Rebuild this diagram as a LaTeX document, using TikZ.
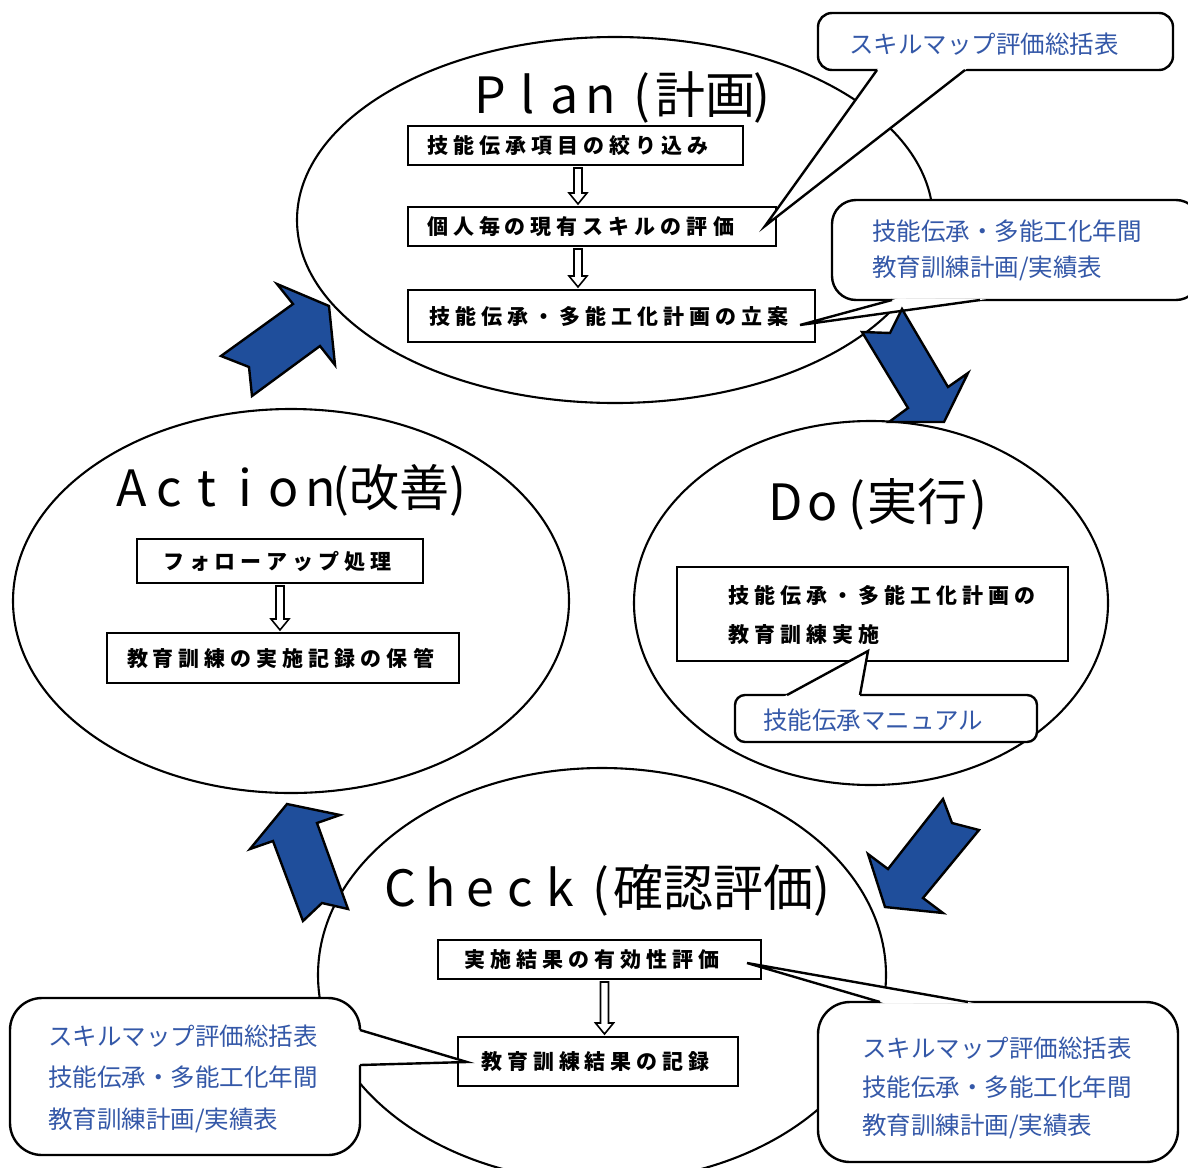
\documentclass[tikz,border=0pt]{standalone}
\usepackage{fontspec}
\setmainfont{Noto Sans CJK JP}
\usetikzlibrary{calc,shapes.geometric}
\definecolor{arrowblue}{RGB}{31,78,155}
\definecolor{textblue}{RGB}{52,88,168}
\newlength\lcw
\newcommand\lc[1]{\makebox[\lcw][c]{#1}}
\newlength\lsgap \setlength\lsgap{5pt}
\def\lsend{\lsend}
\def\lsloop#1{\ifx#1\lsend\else#1\kern\lsgap\expandafter\lsloop\fi}
\newcommand\sptext[1]{\lsloop#1\lsend}
\newcommand\hollowdown[3]{\draw[hollowarrow] let \p1=($(#1.south)+(#3,0)$), \p2=(#2.north) in
  (\x1-4pt,\y1-2pt) -- (\x1-4pt,\y2+13pt) -- (\x1-9pt,\y2+13pt) -- (\x1,\y2+2pt) --
  (\x1+9pt,\y2+13pt) -- (\x1+4pt,\y2+13pt) -- (\x1+4pt,\y1-2pt) -- cycle;}
\newcommand\calltail[3]{%
  \fill[white] ($(#1)!-6pt!(#3)$) -- (#3) -- ($(#2)!-6pt!(#3)$) -- cycle;
  \draw[tailline] (#1) -- (#3) -- (#2);}
\begin{document}
\begin{tikzpicture}[x=1pt,y=-1pt,
  every node/.style={inner sep=0pt},
  ell/.style={draw, ellipse, line width=2.1pt},
  stepbox/.style={draw, line width=2pt, fill=white, font=\fontsize{21}{21}\selectfont\bfseries},
  title/.style={font=\fontsize{50}{50}\selectfont, anchor=base west},
  callout/.style={draw, line width=2.4pt, fill=white},
  calltext/.style={text=textblue, font=\fontsize{24.5}{36}\selectfont, align=left, anchor=west},
  tailline/.style={line width=2.4pt, line join=miter},
  bigarrow/.style={fill=arrowblue, draw=black, line width=2.4pt, line join=miter},
  hollowarrow/.style={draw, line width=1.6pt, fill=white}]
\useasboundingbox (0,0) rectangle (1188,1167);
\fill[white] (0,0) rectangle (1188,1167);

% ellipses
\node[ell, minimum width=636, minimum height=366] (plan) at (615,220) {};
\node[ell, minimum width=474, minimum height=364] (do) at (871,603) {};
\node[ell, minimum width=556, minimum height=384] (act) at (291,601) {};
\node[ell, minimum width=568, minimum height=414] (chk) at (602,975) {};

% titles
\node[title] (tplan) at (471.5,113) {\setlength\lcw{37pt}\lc{P}\lc{l}\lc{a}\lc{n}\kern14pt(\kern5pt計画\kern-2pt)};
\node[title] (tact) at (112,506) {\setlength\lcw{38pt}\lc{A}\lc{c}\lc{t}\lc{i}\lc{o}\lc{n}\kern-8pt(改善)};
\node[title] (tdo) at (766.5,520) {\setlength\lcw{37pt}\lc{D}\lc{o}\kern8pt(\kern2pt実行\kern3pt)};
\node[title] (tchk) at (380,906) {\setlength\lcw{40pt}\lc{C}\lc{h}\lc{e}\lc{c}\lc{k}\kern12pt(\kern4pt確認評価)};

% plan boxes
\node[stepbox, minimum width=335, minimum height=39] (p1) at (575.5,145.5) {\sptext{技能伝承項目の絞り込み}\kern10pt};
\node[stepbox, minimum width=368, minimum height=39] (p2) at (592,226.5) {\sptext{個人毎の現有スキルの評価}\kern18pt};
\node[stepbox, minimum width=407, minimum height=52] (p3) at (611.5,316) {\sptext{技能伝承・多能工化計画の立案}};
\hollowdown{p1}{p2}{2.5}
\hollowdown{p2}{p3}{-14}

% do box
\node[stepbox, minimum width=391, minimum height=94] (d1) at (872.5,614) {};
\node[anchor=west, font=\fontsize{21}{39}\selectfont\bfseries, align=left] (dtxt) at (728,614.5)
  {\sptext{技能伝承・多能工化計画の}\\\sptext{教育訓練実施}};

% action boxes
\node[stepbox, minimum width=286, minimum height=44] (a1) at (280,561) {\sptext{フォローアップ処理}};
\node[stepbox, minimum width=352, minimum height=50] (a2) at (283,658) {\sptext{教育訓練の実施記録の保管}};
\hollowdown{a1}{a2}{0}

% check boxes
\node[stepbox, minimum width=323, minimum height=39] (k1) at (599.5,959.5) {\sptext{実施結果の有効性評価}\kern10pt};
\node[stepbox, minimum width=280, minimum height=49] (k2) at (598,1061.5) {\sptext{教育訓練結果の記録}};
\hollowdown{k1}{k2}{5}

% callouts
\node[callout, rounded corners=14pt, minimum width=355, minimum height=57] (c1) at (995.5,41.5) {};
\coordinate (c1a) at (877,70); \coordinate (c1b) at (965,70); \coordinate (t1) at (765,226);
\calltail{c1a}{c1b}{t1}
\node[calltext] (c1t) at (849,44) {スキルマップ評価総括表};

\node[callout, rounded corners=24pt, minimum width=368, minimum height=100] (c2) at (1016,250) {};
\coordinate (c2a) at (892,300); \coordinate (c2b) at (980,300); \coordinate (t2) at (800,325);
\calltail{c2a}{c2b}{t2}
\node[calltext, font=\fontsize{24.5}{35.5}\selectfont] (c2t) at (872,250.5) {技能伝承・多能工化年間\\教育訓練計画/実績表};

\node[callout, rounded corners=10pt, minimum width=302, minimum height=47] (c3) at (886,718.5) {};
\coordinate (c3a) at (787,695); \coordinate (c3b) at (860,695); \coordinate (t3) at (868,651);
\calltail{c3a}{c3b}{t3}
\node[calltext] (c3t) at (763,720) {技能伝承マニュアル};

\node[callout, rounded corners=32pt, minimum width=350, minimum height=157] (c4) at (185,1076.5) {};
\coordinate (c4a) at (360,1030); \coordinate (c4b) at (360,1065); \coordinate (t4) at (467,1062);
\calltail{c4a}{c4b}{t4}
\node[calltext, font=\fontsize{24.5}{41.5}\selectfont] (c4t) at (48,1078.5) {スキルマップ評価総括表\\技能伝承・多能工化年間\\教育訓練計画/実績表};

\node[callout, rounded corners=32pt, minimum width=360, minimum height=160] (c5) at (998,1082) {};
\coordinate (c5a) at (880,1002); \coordinate (c5b) at (968,1002); \coordinate (t5) at (747,963);
\calltail{c5a}{c5b}{t5}
\node[calltext, font=\fontsize{24.5}{38.5}\selectfont] (c5t) at (862,1088) {スキルマップ評価総括表\\技能伝承・多能工化年間\\教育訓練計画/実績表};

% big blue arrows
\draw[bigarrow] (329,306) -- (335,365) -- (320,346) -- (252,396) -- (249,367) -- (221,356) -- (293,304) -- (277,284) -- cycle;
\draw[bigarrow] (862,332) -- (890,333) -- (902,309) -- (948,387) -- (968,373) -- (944,422) -- (889,422) -- (908,408) -- cycle;
\draw[bigarrow] (943,799) -- (952,823) -- (979,830) -- (923,898) -- (943,913) -- (885,907) -- (868,854) -- (888,869) -- cycle;
\draw[bigarrow] (287,804) -- (340,815) -- (317,823) -- (348,909) -- (322,903) -- (303,921) -- (273,841) -- (250,849) -- cycle;
\end{tikzpicture}
\end{document}
